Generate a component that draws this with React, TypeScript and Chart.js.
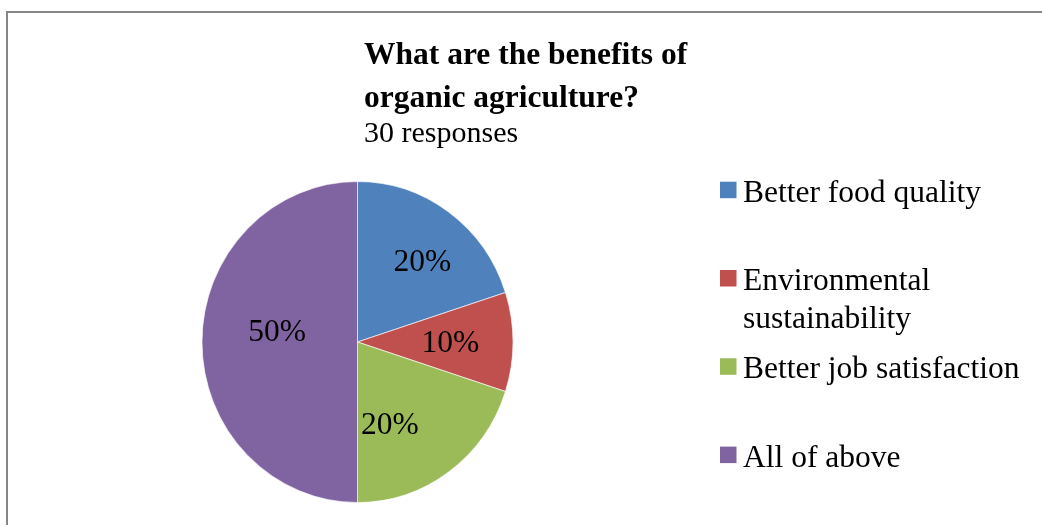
import React, { useEffect, useRef } from 'react';
import { Chart, registerables } from 'chart.js';

Chart.register(...registerables);

// ---- Data ----
const categories = ['Better food quality', 'Environmental sustainability', 'Better job satisfaction', 'All of above'];
const responses = [6, 3, 6, 15]; // of 30 responses -> 20%, 10%, 20%, 50%
const sliceColors = ['#4F81BD', '#C0504D', '#9BBB59', '#8064A2'];
const titleLines = ['What are the benefits of', 'organic agriculture?'];
const subtitleText = '30 responses';

// ---- Label placement styling (best-fit style offsets) ----
const labelAngleShiftDeg = [4.3, 1.2, 14.2, 6.7];
const labelRadiusFrac = [0.644, 0.597, 0.5625, 0.52];
const PIE_SCALE_Y = 1.032; // the reference pie is slightly taller than wide

const FONT = '"Liberation Serif", "Times New Roman", Times, serif';

function wrapText(ctx: CanvasRenderingContext2D, text: string, maxW: number): string[] {
  const words = text.split(' ');
  const lines: string[] = [];
  let cur = '';
  for (const w of words) {
    const test = cur ? cur + ' ' + w : w;
    if (ctx.measureText(test).width > maxW && cur) {
      lines.push(cur);
      cur = w;
    } else {
      cur = test;
    }
  }
  if (cur) lines.push(cur);
  return lines;
}

const decorPlugin = {
  id: 'decor',
  beforeDraw(chart: any) {
    const ctx = chart.ctx as CanvasRenderingContext2D;
    ctx.save();
    ctx.fillStyle = '#ffffff';
    ctx.fillRect(0, 0, chart.width, chart.height);
    ctx.strokeStyle = '#868686';
    ctx.lineWidth = 2;
    ctx.beginPath();
    ctx.moveTo(7, chart.height + 5);
    ctx.lineTo(7, 12);
    ctx.lineTo(chart.width + 5, 12);
    ctx.stroke();
    ctx.restore();
  },
  beforeDatasetsDraw(chart: any) {
    const ctx = chart.ctx as CanvasRenderingContext2D;
    const arc = chart.getDatasetMeta(0).data[0];
    ctx.save();
    if (arc) {
      ctx.translate(0, arc.y);
      ctx.scale(1, PIE_SCALE_Y);
      ctx.translate(0, -arc.y);
    }
  },
  afterDatasetsDraw(chart: any) {
    chart.ctx.restore();
  },
  afterDraw(chart: any) {
    const ctx = chart.ctx as CanvasRenderingContext2D;
    ctx.save();
    ctx.fillStyle = '#000000';
    ctx.textAlign = 'left';
    ctx.textBaseline = 'alphabetic';

    // Title
    ctx.font = `bold 31.5px ${FONT}`;
    ctx.fillText(titleLines[0], 364, 64);
    ctx.fillText(titleLines[1], 364, 107);
    ctx.font = `30px ${FONT}`;
    ctx.fillText(subtitleText, 364, 142);

    // Percentage labels
    const ds = chart.data.datasets[0];
    const vals = ds.data as number[];
    const total = vals.reduce((a, b) => a + b, 0);
    const meta = chart.getDatasetMeta(0);
    ctx.font = `31.5px ${FONT}`;
    ctx.textAlign = 'center';
    ctx.textBaseline = 'middle';
    meta.data.forEach((arc: any, i: number) => {
      const p = arc.getProps(['x', 'y', 'startAngle', 'endAngle', 'outerRadius'], true);
      const mid = (p.startAngle + p.endAngle) / 2 + (labelAngleShiftDeg[i] * Math.PI) / 180;
      const r = p.outerRadius * labelRadiusFrac[i];
      const pct = Math.round((vals[i] / total) * 100) + '%';
      ctx.fillText(pct, p.x + Math.cos(mid) * r, p.y + Math.sin(mid) * r * PIE_SCALE_Y);
    });

    // Legend
    ctx.textAlign = 'left';
    ctx.textBaseline = 'alphabetic';
    ctx.font = `31.5px ${FONT}`;
    const labels = chart.data.labels as string[];
    labels.forEach((lab, i) => {
      const base = 201.7 + i * 88.3;
      ctx.fillStyle = (ds.backgroundColor as string[])[i];
      ctx.fillRect(720, base - 20, 16.5, 16.5);
      ctx.fillStyle = '#000000';
      const lines = wrapText(ctx, lab, 292);
      lines.forEach((ln, j) => ctx.fillText(ln, 743, base + j * 38.4));
    });
    ctx.restore();
  },
};

export default function App() {
  const canvasRef = useRef<HTMLCanvasElement | null>(null);

  useEffect(() => {
    if (!canvasRef.current) return;
    const chart = new Chart(canvasRef.current, {
      type: 'pie',
      data: {
        labels: categories,
        datasets: [
          {
            data: responses,
            backgroundColor: sliceColors,
            borderColor: 'rgba(255,255,255,0.6)',
            borderWidth: 1,
          },
        ],
      },
      options: {
        responsive: false,
        animation: false,
        events: [],
        layout: { padding: { left: 201.2, right: 528.2, top: 186, bottom: 27 } },
        plugins: {
          legend: { display: false },
          title: { display: false },
          tooltip: { enabled: false },
        },
      },
      plugins: [decorPlugin],
    });
    return () => chart.destroy();
  }, []);

  return (
    <div style={{ position: 'absolute', left: 0, top: 0, width: 1042, height: 525, background: '#fff', overflow: 'hidden' }}>
      <canvas ref={canvasRef} width={1042} height={525} style={{ display: 'block' }} />
    </div>
  );
}
